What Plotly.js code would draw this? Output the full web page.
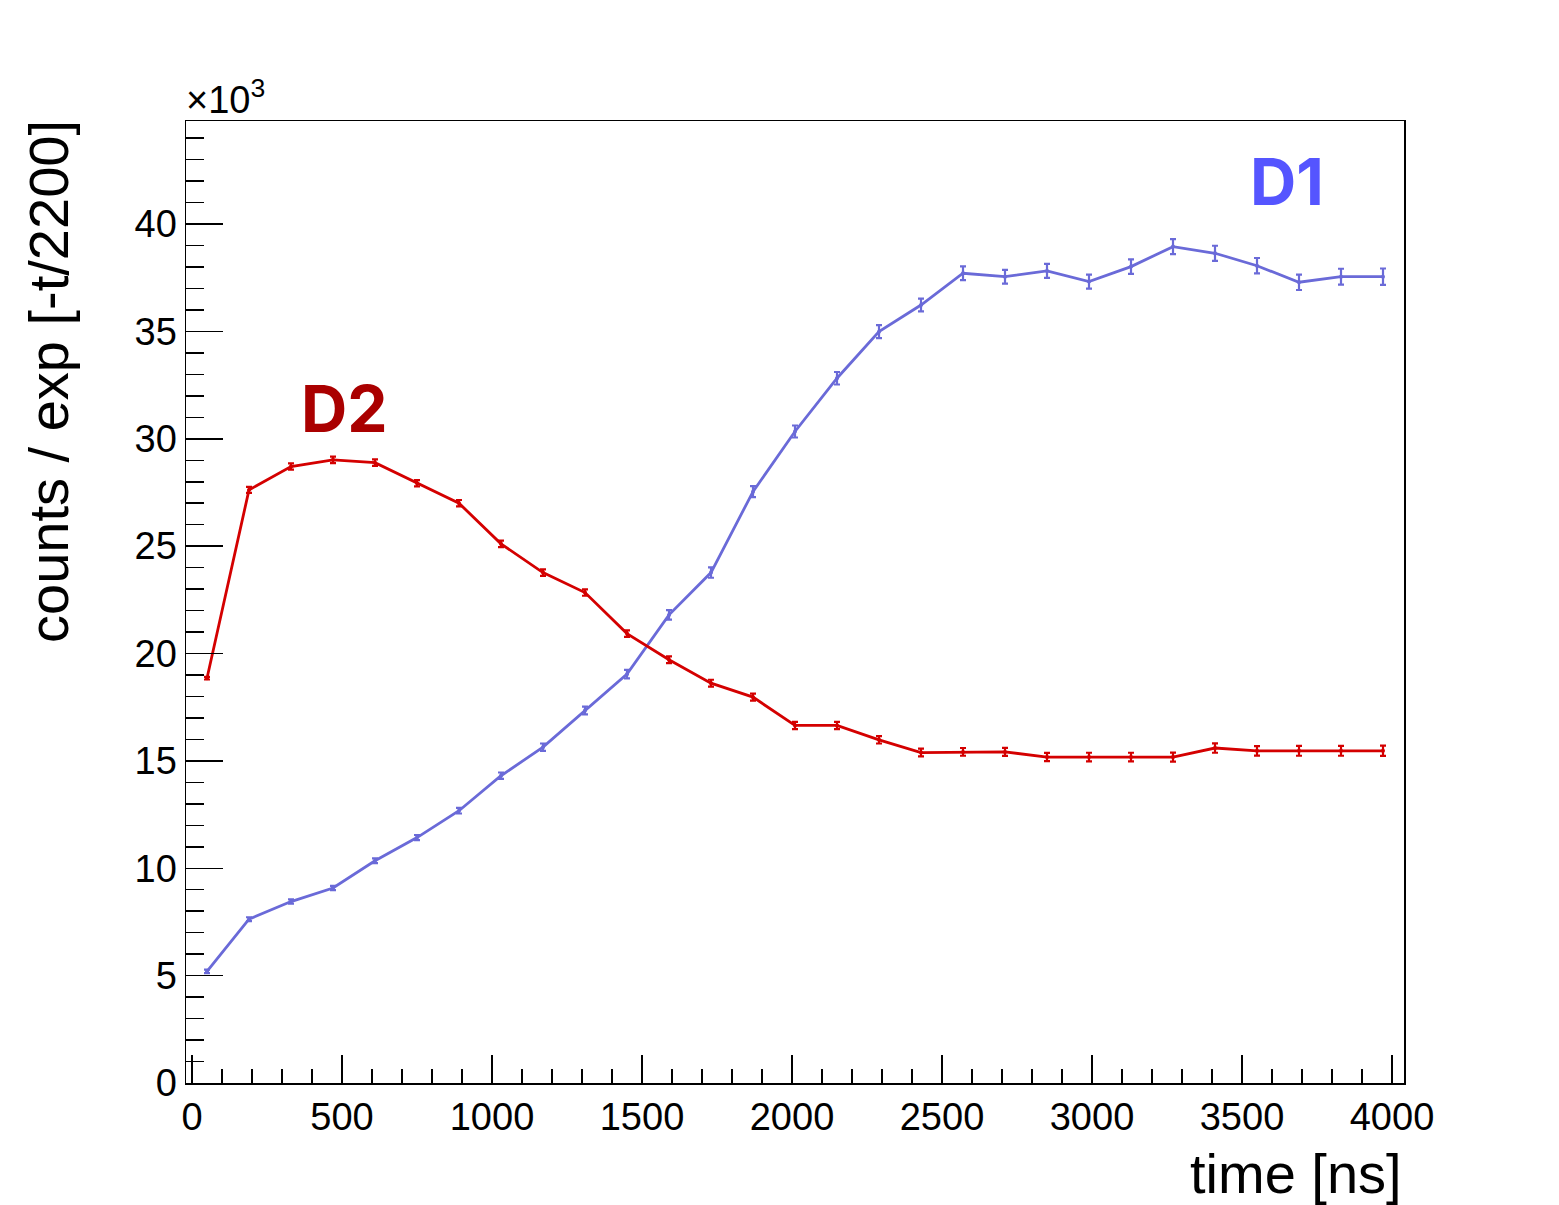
<!DOCTYPE html>
<html>
<head>
<meta charset="utf-8">
<script src="https://cdn.plot.ly/plotly-3.0.1.min.js"></script>
<style>
  html, body { margin: 0; padding: 0; background: #fff; }
  #chart { width: 1559px; height: 1205px; }
</style>
</head>
<body>
<div id="chart"></div>
<script>
// bin centres, 140 ns wide bins
const timeNs = [50, 190, 330, 470, 610, 750, 890, 1030, 1170, 1310,
                1450, 1590, 1730, 1870, 2010, 2150, 2290, 2430, 2570, 2710,
                2850, 2990, 3130, 3270, 3410, 3550, 3690, 3830, 3970];

// counts / exp[-t/2200], in units of 10^3
const d1Counts = [5.20, 7.63, 8.45, 9.08, 10.35, 11.43, 12.68, 14.31, 15.64, 17.35,
                  19.04, 21.80, 23.77, 27.54, 30.34, 32.82, 34.99, 36.23, 37.71, 37.55,
                  37.82, 37.32, 38.02, 38.95, 38.64, 38.06, 37.29, 37.55, 37.55];
const d1Errors = [0.08, 0.09, 0.10, 0.10, 0.11, 0.12, 0.13, 0.15, 0.17, 0.18,
                  0.20, 0.22, 0.24, 0.26, 0.28, 0.29, 0.30, 0.30, 0.32, 0.32,
                  0.33, 0.33, 0.34, 0.35, 0.35, 0.36, 0.36, 0.37, 0.38];

const d2Counts = [18.85, 27.62, 28.71, 29.02, 28.89, 27.93, 27.00, 25.11, 23.77, 22.84,
                  20.93, 19.71, 18.62, 17.97, 16.65, 16.65, 15.98, 15.39, 15.42, 15.42,
                  15.18, 15.18, 15.18, 15.18, 15.60, 15.47, 15.47, 15.47, 15.47];
const d2Errors = [0.06, 0.14, 0.15, 0.15, 0.15, 0.15, 0.15, 0.15, 0.15, 0.15,
                  0.15, 0.16, 0.16, 0.16, 0.17, 0.17, 0.17, 0.18, 0.18, 0.19,
                  0.19, 0.20, 0.20, 0.21, 0.22, 0.22, 0.23, 0.23, 0.24];

const BLUE = '#6a6ad8';
const RED = '#d40000';
const FONT = 'Liberation Sans, Arial, sans-serif';

function series(y, err, color) {
    return {
        x: timeNs,
        y: y,
        type: 'scatter',
        mode: 'lines+markers',
        line: { color: color, width: 2.8 },
        marker: { color: color, size: 4 },
        error_y: { type: 'data', array: err, visible: true, color: color, thickness: 2.2, width: 3 },
        hoverinfo: 'x+y',
        showlegend: false,
    };
}

const axisCommon = {
    showline: true,
    linecolor: '#000',
    linewidth: 1.5,
    mirror: true,
    showgrid: false,
    zeroline: false,
    ticks: 'inside',
    tickcolor: '#000',
    tickwidth: 1.5,
    tickfont: { family: FONT, size: 38, color: '#000' },
};

const layout = {
    width: 1559,
    height: 1205,
    margin: { l: 186, r: 155, t: 121, b: 122 },
    paper_bgcolor: '#fff',
    plot_bgcolor: '#fff',
    xaxis: {
        ...axisCommon,
        range: [-20, 4040],
        tickvals: [0, 500, 1000, 1500, 2000, 2500, 3000, 3500, 4000],
        ticklen: 28,
        ticklabelstandoff: 0,
        minor: { ticks: 'inside', dtick: 100, tick0: 0, ticklen: 14, tickwidth: 1.5, tickcolor: '#000' },
    },
    yaxis: {
        ...axisCommon,
        range: [0, 44.8],
        tickvals: [0, 5, 10, 15, 20, 25, 30, 35, 40],
        ticklen: 37,
        ticklabelstandoff: 0,
        minor: { ticks: 'inside', dtick: 1, tick0: 0, ticklen: 18, tickwidth: 1.5, tickcolor: '#000' },
    },
    annotations: [
        {
            text: 'time [ns]', xref: 'paper', yref: 'paper', x: 1, y: -0.094,
            xanchor: 'right', yanchor: 'middle', showarrow: false,
            font: { family: FONT, size: 56, color: '#000' },
        },
        {
            text: 'counts / exp [-t/2200]', xref: 'paper', yref: 'paper', x: -0.113, y: 1.003,
            xanchor: 'center', yanchor: 'top', textangle: -90, showarrow: false,
            font: { family: FONT, size: 56, color: '#000' },
        },
        {
            text: '×10<sup>3</sup>', xref: 'paper', yref: 'paper', x: -0.002, y: 0.998,
            xanchor: 'left', yanchor: 'bottom', showarrow: false,
            font: { family: FONT, size: 38, color: '#000' },
        },
        {
            text: '<b>D1</b>', xref: 'x', yref: 'y', x: 3650, y: 42.0,
            xanchor: 'center', yanchor: 'middle', showarrow: false,
            font: { family: 'Inter, sans-serif', size: 64, color: '#5555ff' },
        },
        {
            text: '<b>D2</b>', xref: 'x', yref: 'y', x: 507, y: 31.4,
            xanchor: 'center', yanchor: 'middle', showarrow: false,
            font: { family: 'Inter, sans-serif', size: 64, color: '#aa0000' },
        },
    ],
};

Plotly.newPlot('chart', [series(d1Counts, d1Errors, BLUE), series(d2Counts, d2Errors, RED)],
    layout, { staticPlot: true, displayModeBar: false });
</script>
</body>
</html>
